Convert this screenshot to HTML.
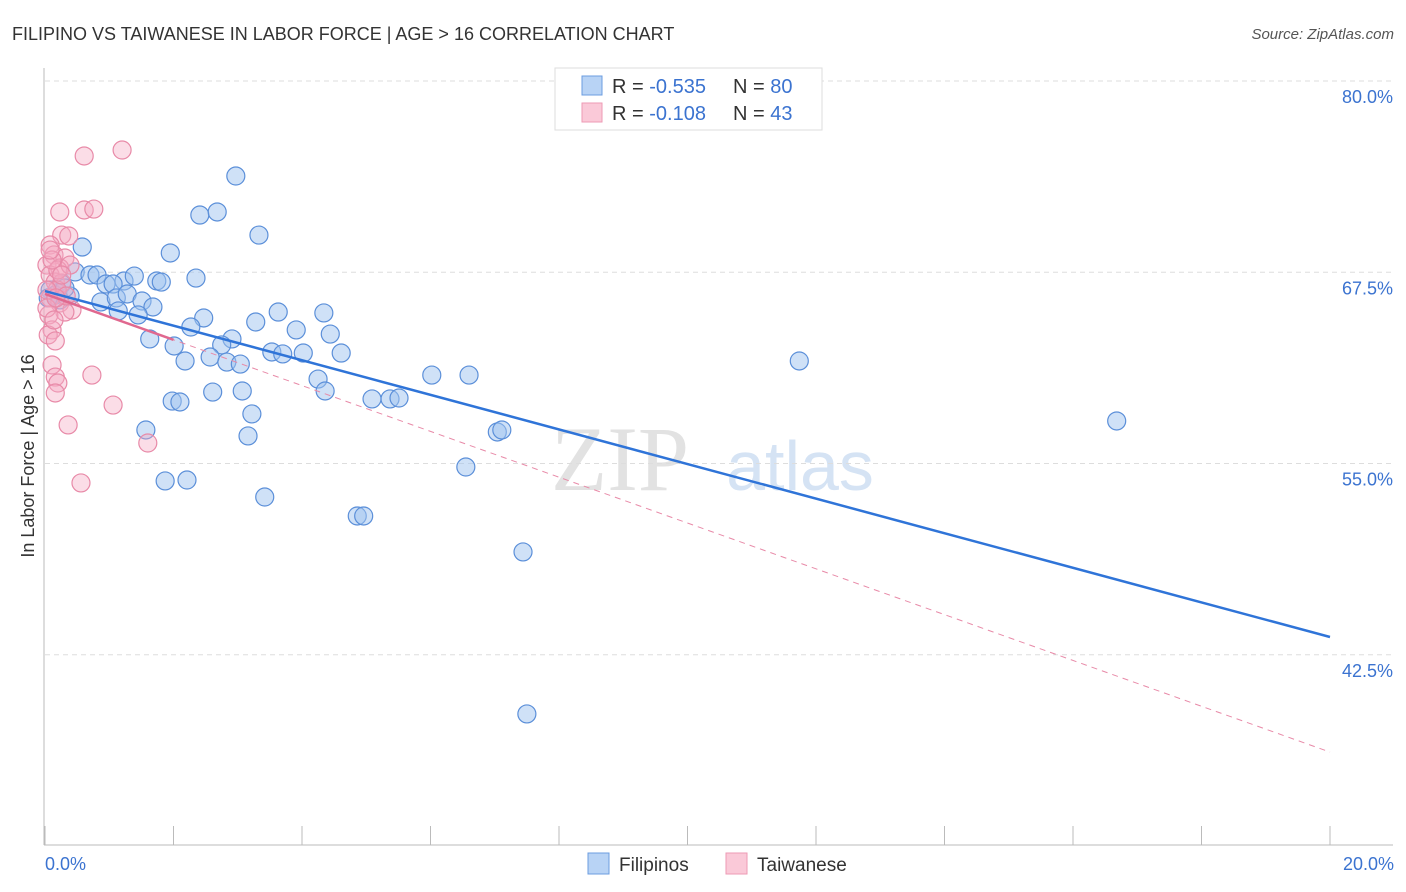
<!DOCTYPE html>
<html><head><meta charset="utf-8"><style>
body{margin:0;background:#fff;font-family:"Liberation Sans",sans-serif}
svg{display:block}
</style></head><body>
<svg id="chart" width="1406" height="892">
<text x="12" y="40" font-size="18" fill="#333">FILIPINO VS TAIWANESE IN LABOR FORCE | AGE &gt; 16 CORRELATION CHART</text>
<text x="1394" y="39" font-size="15" fill="#555" font-style="italic" text-anchor="end">Source: ZipAtlas.com</text>
<text x="620" y="490" font-size="92" fill="#e2e2e2" font-family="Liberation Serif,serif" text-anchor="middle">ZIP</text>
<text x="800" y="490" font-size="70" fill="#d5e3f4" text-anchor="middle">atlas</text>
<g id="grid"></g><g id="axes"></g><g id="pts"></g><g id="lines"></g>
<text x="34" y="456" font-size="18" fill="#333" text-anchor="middle" transform="rotate(-90 34 456)">In Labor Force | Age &gt; 16</text>
<g>
<rect x="555" y="68" width="267" height="62" fill="#fff" stroke="#ddd"/>
<rect x="582" y="76" width="20" height="19" fill="#b8d3f5" stroke="#6b9de0"/>
<rect x="582" y="103" width="20" height="19" fill="#fac9d8" stroke="#ee9ab4"/>
<text x="612" y="93" font-size="20" fill="#333">R = <tspan fill="#3b73d0">-0.535</tspan><tspan x="733">N = </tspan><tspan fill="#3b73d0">80</tspan></text>
<text x="612" y="120" font-size="20" fill="#333">R = <tspan fill="#3b73d0"> -0.108</tspan><tspan x="733">N = </tspan><tspan fill="#3b73d0"> 43</tspan></text>
</g>
<g>
<rect x="588" y="853" width="21" height="21" fill="#b8d3f5" stroke="#6b9de0"/>
<text x="619" y="871" font-size="19" fill="#333">Filipinos</text>
<rect x="726" y="853" width="21" height="21" fill="#fac9d8" stroke="#ee9ab4"/>
<text x="757" y="871" font-size="19" fill="#333">Taiwanese</text>
</g>
<text x="45" y="870" font-size="18" fill="#3b73d0">0.0%</text>
<text x="1394" y="870" font-size="18" fill="#3b73d0" text-anchor="end">20.0%</text>
</svg>
<script>
const yTicks=[80,67.5,55,42.5];
const yTickLabels=["80.0%","67.5%","55.0%","42.5%"];
const xTicks=[0,2,4,6,8,10,12,14,16,18,20];
const filX=[2.97,2.41,2.68,3.33,0.58,1.95,2.35,0.47,0.70,0.81,1.23,1.39,1.74,1.81,0.95,1.06,0.26,0.20,0.39,0.87,1.11,1.28,1.51,1.68,1.14,1.45,2.47,3.28,3.63,4.34,2.27,3.91,4.44,1.63,2.91,2.01,2.75,3.53,3.70,4.02,4.61,2.18,2.57,2.83,3.04,11.74,6.02,6.60,4.25,4.36,2.61,3.07,1.98,2.10,5.09,5.37,5.51,3.22,1.57,3.16,7.04,7.11,16.68,6.55,1.87,2.21,3.42,4.86,4.96,7.44,7.50,0.08,0.16,0.23,0.05,0.31];
const filY=[73.79,71.24,71.44,69.93,69.15,68.76,67.12,67.52,67.32,67.32,66.93,67.25,66.93,66.86,66.73,66.73,66.73,66.14,65.95,65.56,65.82,66.08,65.62,65.23,64.97,64.71,64.51,64.25,64.90,64.84,63.92,63.73,63.46,63.14,63.14,62.68,62.75,62.29,62.16,62.22,62.22,61.70,61.96,61.63,61.50,61.70,60.78,60.78,60.52,59.74,59.67,59.74,59.08,59.02,59.22,59.22,59.28,58.24,57.19,56.80,57.06,57.19,57.78,54.77,53.86,53.92,52.81,51.57,51.57,49.22,38.63,66.34,66.01,65.69,65.82,66.47];
const taiX=[0.61,1.20,0.23,0.61,0.76,0.26,0.37,0.08,0.14,0.31,0.03,0.23,0.08,0.16,0.26,0.19,0.08,0.23,0.42,0.31,0.06,0.11,0.05,0.16,0.11,0.16,0.20,0.16,0.73,1.06,0.36,1.60,0.56,0.03,0.20,0.11,0.33,0.03,0.17,0.39,0.26,0.14,0.08];
const taiY=[75.10,75.49,71.44,71.57,71.63,69.93,69.87,69.28,68.63,68.43,67.97,67.78,67.32,66.86,66.80,66.34,65.82,65.49,65.03,64.90,64.71,63.73,63.40,63.01,61.44,60.65,60.26,59.61,60.78,58.82,57.52,56.34,53.73,66.34,67.65,68.30,65.95,65.16,65.82,67.97,67.32,64.38,68.95];
const filTrend=[66.27,43.66];
const taiTrend=[66.08,36.14];
const NS="http://www.w3.org/2000/svg";
const sx=v=>45+v/20*1285, sy=v=>81+(80-v)*15.3;
function mk(parent,tag,attrs){const e=document.createElementNS(NS,tag);for(const k in attrs)e.setAttribute(k,attrs[k]);document.getElementById(parent).appendChild(e);return e;}
yTicks.forEach((t,i)=>{
 let l=mk('grid','line',{x1:45,x2:1393,y1:sy(t),y2:sy(t),stroke:'#ddd','stroke-dasharray':'5,4'});
 
 
 let tx=mk('grid','text',{x:1393,y:sy(t)+22,'font-size':18,fill:'#3b73d0','text-anchor':'end'});
 tx.textContent=yTickLabels[i];
 
 
});
let a1=mk('axes','line',{x1:44,x2:44,y1:68,y2:845,stroke:'#bbb'});


let a2=mk('axes','line',{x1:44,x2:1393,y1:845,y2:845,stroke:'#bbb'});


xTicks.forEach(t=>{
 let l=mk('axes','line',{x1:sx(t),x2:sx(t),y1:826,y2:845,stroke:'#bbb'});
 
 
});
filX.forEach((x,i)=>{
 let c=mk('pts','circle',{cx:sx(x),cy:sy(filY[i]),r:9,fill:'rgba(160,196,240,0.5)',stroke:'#5b8fd9','stroke-width':1.2});
 
 
});
taiX.forEach((x,i)=>{
 let c=mk('pts','circle',{cx:sx(x),cy:sy(taiY[i]),r:9,fill:'rgba(245,170,195,0.4)',stroke:'#e88aa8','stroke-width':1.2});
 
 
});
let tl=mk('lines','line',{x1:sx(0),y1:sy(taiTrend[0]),x2:sx(20),y2:sy(taiTrend[1]),stroke:'#e88aa8','stroke-width':1,'stroke-dasharray':'6,5'});


const ts=taiTrend[0]+(taiTrend[1]-taiTrend[0])*2/20;
let ts2=mk('lines','line',{x1:sx(0),y1:sy(taiTrend[0]),x2:sx(2),y2:sy(ts),stroke:'#e0688f','stroke-width':2.5});


let fl=mk('lines','line',{x1:sx(0),y1:sy(filTrend[0]),x2:sx(20),y2:sy(filTrend[1]),stroke:'#2f74d8','stroke-width':2.5});


</script>
</body></html>
